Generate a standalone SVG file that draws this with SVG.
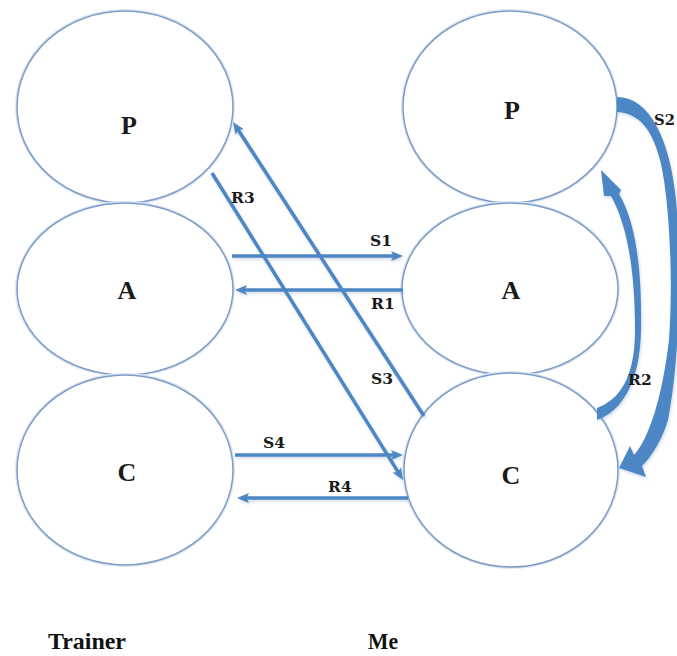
<svg xmlns="http://www.w3.org/2000/svg" width="677" height="656" viewBox="0 0 677 656">
  <defs>
    <style>
      .node { fill: #ffffff; stroke: #7d9dc6; stroke-width: 1.5; }
      .halo { fill: none; stroke: #dbe6f3; stroke-width: 4; }
      .letter { font-family: "Liberation Serif", "DejaVu Serif", serif; font-weight: bold; font-size: 26px; fill: #1a1a1a; text-anchor: middle; }
      .lbl { font-family: "DejaVu Serif", "Liberation Serif", serif; font-weight: bold; font-size: 15.5px; fill: #1a1a1a; }
      .title { font-family: "Liberation Serif", "DejaVu Serif", serif; font-weight: bold; font-size: 24px; fill: #111111; }
      .conn { fill: none; stroke: #4d86c4; stroke-width: 3.5; }
      .band { fill: #4d86c4; }
    </style>
    <marker id="head" viewBox="0 0 12 10" refX="4" refY="5" markerWidth="12" markerHeight="10" markerUnits="userSpaceOnUse" orient="auto">
      <path d="M0,0 L12,5 L0,10 L2.5,5 z" fill="#4d86c4"/>
    </marker>
    <filter id="soft" x="-10%" y="-10%" width="120%" height="120%">
      <feDropShadow dx="1" dy="2" stdDeviation="1.5" flood-color="#6f8fb8" flood-opacity="0.3"/>
    </filter>
  </defs>

  <rect width="677" height="656" fill="#ffffff"/>

  <!-- Trainer column -->
  <g id="trainer-p">
    <ellipse class="halo" cx="125" cy="107" rx="108" ry="96"/>
    <ellipse class="node" cx="125" cy="107" rx="108" ry="96"/>
    <text class="letter" x="129" y="134">P</text>
  </g>
  <g id="trainer-a">
    <ellipse class="halo" cx="125" cy="289" rx="108" ry="86"/>
    <ellipse class="node" cx="125" cy="289" rx="108" ry="86"/>
    <text class="letter" x="127" y="299">A</text>
  </g>
  <g id="trainer-c">
    <ellipse class="halo" cx="125" cy="470" rx="108" ry="95"/>
    <ellipse class="node" cx="125" cy="470" rx="108" ry="95"/>
    <text class="letter" x="127" y="481">C</text>
  </g>

  <!-- Me column -->
  <g id="me-p">
    <ellipse class="halo" cx="510" cy="107" rx="107" ry="96"/>
    <ellipse class="node" cx="510" cy="107" rx="107" ry="96"/>
    <text class="letter" x="512" y="119">P</text>
  </g>
  <g id="me-a">
    <ellipse class="halo" cx="510" cy="289" rx="108" ry="86"/>
    <ellipse class="node" cx="510" cy="289" rx="108" ry="86"/>
    <text class="letter" x="511" y="299">A</text>
  </g>
  <g id="me-c">
    <ellipse class="halo" cx="511" cy="470" rx="107" ry="97"/>
    <ellipse class="node" cx="511" cy="470" rx="107" ry="97"/>
    <text class="letter" x="511" y="484">C</text>
  </g>

  <!-- Connectors -->
  <g id="connectors" filter="url(#soft)">
    <path class="conn" d="M232,256 L395,256" marker-end="url(#head)"/>
    <path class="conn" d="M403,290 L243,290" marker-end="url(#head)"/>
    <path class="conn" d="M424,416 L237.4,128.7" marker-end="url(#head)"/>
    <path class="conn" d="M212,173 L398.8,473.2" marker-end="url(#head)"/>
    <path class="conn" d="M235,455 L395,455" marker-end="url(#head)"/>
    <path class="conn" d="M408,498 L245,498" marker-end="url(#head)"/>
    <!-- S2: tapered arc from Me P to Me C -->
    <path class="band" d="M617,97 C650,97 670,140 676,200 C682,260 680,360 668,420 C662,440 652,456 642,466 L646,477 L619,468 L630,446 L634,455 C648,440 662,400 669,340 C674,270 668,190 660,160 C652,128 638,113 617,112 Z"/>
    <!-- R2: tapered arc from Me C back to Me P -->
    <path class="band" d="M597,420 C620,412 640,385 641,330 C642,270 636,222 619,194 L621,190 L601,170 L604,196 L611,196 C627,224 635,270 635,330 C635,380 618,400 597,408 Z"/>
  </g>

  <!-- Connector labels -->
  <g id="labels">
    <text class="lbl" x="370" y="246">S1</text>
    <text class="lbl" x="371" y="309">R1</text>
    <text class="lbl" x="371" y="384">S3</text>
    <text class="lbl" x="231" y="203">R3</text>
    <text class="lbl" x="263" y="448">S4</text>
    <text class="lbl" x="328" y="492">R4</text>
    <text class="lbl" x="654" y="125" textLength="21" lengthAdjust="spacingAndGlyphs">S2</text>
    <text class="lbl" x="628" y="385">R2</text>
  </g>

  <!-- Column titles -->
  <text class="title" x="48" y="649" textLength="78" lengthAdjust="spacingAndGlyphs">Trainer</text>
  <text class="title" x="368" y="649" textLength="30" lengthAdjust="spacingAndGlyphs">Me</text>
</svg>
